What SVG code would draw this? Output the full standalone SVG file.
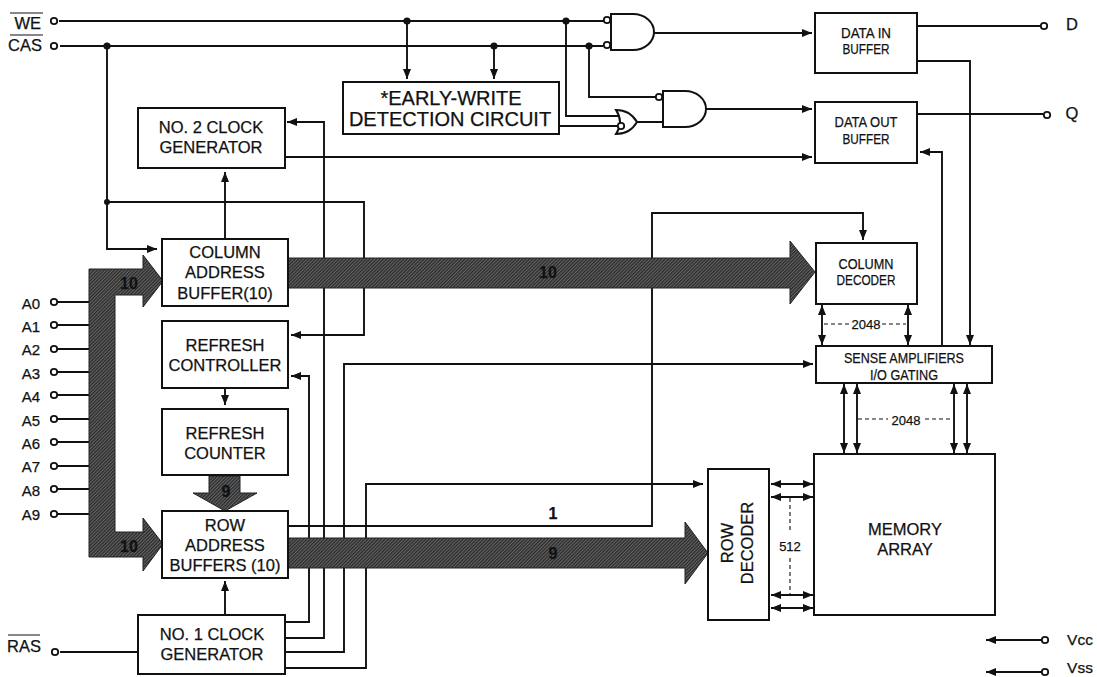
<svg xmlns="http://www.w3.org/2000/svg" width="1097" height="677" viewBox="0 0 1097 677">
<style>
text{font-family:"Liberation Sans",Arial,sans-serif;font-size:16.5px;fill:#111;stroke:#111;stroke-width:.25;text-anchor:middle}
.s{font-size:15px}
.n{font-size:13px}
.b{font-size:16px;font-weight:bold}
.box{fill:#fff;stroke:#111;stroke-width:2}
.w{fill:none;stroke:#111;stroke-width:1.9}
.a{marker-end:url(#ah)}
.d{marker-start:url(#ahs);marker-end:url(#ah)}
.da{fill:none;stroke:#111;stroke-width:1.1;stroke-dasharray:4 3}
.pin{fill:#fff;stroke:#111;stroke-width:1.8}
.j{fill:#111}
.bus{fill:url(#hatch);stroke:#222;stroke-width:1}
.ov{stroke:#111;stroke-width:1}
</style>
<defs>
<marker id="ah" markerUnits="userSpaceOnUse" markerWidth="11" markerHeight="10" refX="10" refY="5" orient="auto"><path d="M0 1L10 5L0 9z" fill="#111"/></marker>
<marker id="ahs" markerUnits="userSpaceOnUse" markerWidth="11" markerHeight="10" refX="0" refY="5" orient="auto"><path d="M10 1L0 5L10 9z" fill="#111"/></marker>
<pattern id="hatch" patternUnits="userSpaceOnUse" width="2.4" height="2.4" patternTransform="rotate(45)"><rect width="2.4" height="2.4" fill="#666"/><rect width="1.3" height="2.4" fill="#2a2a2a"/></pattern>
</defs>
<rect width="1097" height="677" fill="#fff"/>

<g id="connectors">
<path class="w" d="M59 21H605M60 46H603"/>
<path class="w a" d="M107 46V249H157"/>
<path class="w a" d="M107 202H364V335H291"/>
<path class="w a" d="M285 638H324V122H287"/>
<path class="w a" d="M285 622H309V376H291"/>
<path class="w a" d="M285 652H344V364H813"/>
<path class="w a" d="M285 668H366V484H703"/>
<path class="w a" d="M288 526H652V213H863V240"/>
<path class="w a" d="M225 239V172"/>
<path class="w a" d="M225 388V405"/>
<path class="w a" d="M225 615V581"/>
<path class="w a" d="M285 157H812"/>
<path class="w a" d="M407 21V79"/>
<path class="w a" d="M494 46V79"/>
<path class="w" d="M566 21V116H622"/>
<path class="w" d="M589 46V97H655"/>
<path class="w" d="M559 126H617M637 122H663"/>
<path class="w a" d="M653 33H812"/>
<path class="w a" d="M706 109H812"/>
<path class="w" d="M917 26H1040M917 114H1043"/>
<path class="w a" d="M917 61H970V345"/>
<path class="w a" d="M942 346V152H920"/>
<path class="w d" d="M822 305V345"/>
<path class="w d" d="M908 305V345"/>
<path class="w d" d="M844 384V453"/>
<path class="w d" d="M857 384V453"/>
<path class="w d" d="M954 384V453"/>
<path class="w d" d="M967 384V453"/>
<path class="w d" d="M771 484H813"/>
<path class="w d" d="M771 497H813"/>
<path class="w d" d="M771 595H813"/>
<path class="w d" d="M771 608H813"/>
<path class="da" d="M824 324H850M882 324H906M858 419H888M925 419H953M790 498V530M790 558V594"/>
<path class="w a" d="M1041 640H986"/>
<path class="w a" d="M1041 672H986"/>
<path class="w" d="M58 302H89M58 325H89M58 349H89M58 372H89M58 395H89M58 419H89M58 442H89M58 466H89M58 489H89M58 514H89M60 652H138"/>
<path class="bus" d="M89 269H143V255L163 281L143 307V295H115V532H143V518L163 544L143 571V557H89Z"/>
<path class="bus" d="M288 258H790V241L815 272L790 304V288H288Z"/>
<path class="bus" d="M288 538H685V522L708 553L685 584V568H288Z"/>
<path class="bus" d="M209 476H240V493H257L225 511L193 493H209Z"/>
<circle class="j" cx="107" cy="46" r="3.6"/><circle class="j" cx="107" cy="202" r="3"/>
<circle class="j" cx="407" cy="21" r="3.6"/><circle class="j" cx="566" cy="21" r="3.6"/>
<circle class="j" cx="494" cy="46" r="3.6"/><circle class="j" cx="589" cy="46" r="3.6"/>
<text class="b" x="129" y="289">10</text>
<text class="b" x="129" y="552">10</text>
<text class="b" x="548" y="278">10</text>
<text class="b" x="553" y="519">1</text>
<text class="b" x="553" y="559">9</text>
<text class="b" x="226" y="497">9</text>
<text class="n" x="866" y="329">2048</text>
<text class="n" x="906" y="425">2048</text>
<text class="n" x="790" y="551">512</text>
</g>

<g id="gate-and-1"><path class="box" d="M611 14H633A21 18 0 0 1 633 50H611Z"/><circle class="pin" cx="607" cy="20" r="3.2"/><circle class="pin" cx="607" cy="45" r="3.2"/></g>
<g id="gate-and-2"><path class="box" d="M663 91H685A21 18 0 0 1 685 127H663Z"/><circle class="pin" cx="659" cy="97" r="3.2"/></g>
<g id="gate-or"><path class="box" d="M616 110Q630 110 637 122Q630 134 616 134Q624 122 616 110Z"/><circle class="pin" cx="621" cy="126" r="3.2"/></g>

<g id="pin-we"><text x="41" y="29" style="text-anchor:end">WE</text><line class="ov" x1="10" y1="13" x2="43" y2="13"/><circle class="pin" cx="54" cy="21" r="3.2"/></g>
<g id="pin-cas"><text x="42" y="51" style="text-anchor:end">CAS</text><line class="ov" x1="10" y1="35" x2="43" y2="35"/><circle class="pin" cx="54" cy="46" r="3.2"/></g>
<g id="pin-a0"><text class="s" x="31" y="309">A0</text><circle class="pin" cx="54" cy="302" r="3.2"/></g>
<g id="pin-a1"><text class="s" x="31" y="332">A1</text><circle class="pin" cx="54" cy="325" r="3.2"/></g>
<g id="pin-a2"><text class="s" x="31" y="355">A2</text><circle class="pin" cx="54" cy="349" r="3.2"/></g>
<g id="pin-a3"><text class="s" x="31" y="379">A3</text><circle class="pin" cx="54" cy="372" r="3.2"/></g>
<g id="pin-a4"><text class="s" x="31" y="402">A4</text><circle class="pin" cx="54" cy="395" r="3.2"/></g>
<g id="pin-a5"><text class="s" x="31" y="426">A5</text><circle class="pin" cx="54" cy="419" r="3.2"/></g>
<g id="pin-a6"><text class="s" x="31" y="449">A6</text><circle class="pin" cx="54" cy="442" r="3.2"/></g>
<g id="pin-a7"><text class="s" x="31" y="472">A7</text><circle class="pin" cx="54" cy="466" r="3.2"/></g>
<g id="pin-a8"><text class="s" x="31" y="496">A8</text><circle class="pin" cx="54" cy="489" r="3.2"/></g>
<g id="pin-a9"><text class="s" x="31" y="520">A9</text><circle class="pin" cx="54" cy="514" r="3.2"/></g>
<g id="pin-ras"><text x="41" y="652" style="text-anchor:end">RAS</text><line class="ov" x1="8" y1="635" x2="40" y2="635"/><circle class="pin" cx="55" cy="652" r="3.2"/></g>
<g id="pin-d"><text x="1072" y="30">D</text><circle class="pin" cx="1044" cy="26" r="3.2"/></g>
<g id="pin-q"><text x="1072" y="119">Q</text><circle class="pin" cx="1047" cy="115" r="3.2"/></g>
<g id="pin-vcc"><text x="1080" y="645" style="font-size:15.5px">Vcc</text><circle class="pin" cx="1045" cy="640" r="3.2"/></g>
<g id="pin-vss"><text x="1080" y="673" style="font-size:15.5px">Vss</text><circle class="pin" cx="1045" cy="672" r="3.2"/></g>

<g id="no2-clock"><rect class="box" x="138" y="108" width="147" height="60"/><text x="211" y="133">NO. 2 CLOCK</text><text x="211" y="153">GENERATOR</text></g>
<g id="early-write"><rect class="box" x="343" y="82" width="216" height="52"/><text x="451" y="105" style="font-size:20px">*EARLY-WRITE</text><text x="450" y="126" style="font-size:20px">DETECTION CIRCUIT</text></g>
<g id="column-buffer"><rect class="box" x="162" y="239" width="126" height="67"/><text x="225" y="258">COLUMN</text><text x="225" y="278">ADDRESS</text><text x="225" y="299">BUFFER(10)</text></g>
<g id="refresh-controller"><rect class="box" x="162" y="321" width="126" height="67"/><text x="225" y="351">REFRESH</text><text x="225" y="371">CONTROLLER</text></g>
<g id="refresh-counter"><rect class="box" x="162" y="409" width="126" height="66"/><text x="225" y="439">REFRESH</text><text x="225" y="459">COUNTER</text></g>
<g id="row-buffers"><rect class="box" x="162" y="511" width="126" height="67"/><text x="225" y="531">ROW</text><text x="225" y="551">ADDRESS</text><text x="225" y="571">BUFFERS (10)</text></g>
<g id="no1-clock"><rect class="box" x="138" y="615" width="147" height="59"/><text x="212" y="640">NO. 1 CLOCK</text><text x="212" y="660">GENERATOR</text></g>
<g id="data-in"><rect class="box" x="815" y="13" width="102" height="60"/><text class="s" x="866" y="38" textLength="50" lengthAdjust="spacingAndGlyphs">DATA IN</text><text class="s" x="866" y="54" textLength="47" lengthAdjust="spacingAndGlyphs">BUFFER</text></g>
<g id="data-out"><rect class="box" x="815" y="102" width="102" height="61"/><text class="s" x="866" y="127" textLength="63" lengthAdjust="spacingAndGlyphs">DATA OUT</text><text class="s" x="866" y="144" textLength="47" lengthAdjust="spacingAndGlyphs">BUFFER</text></g>
<g id="column-decoder"><rect class="box" x="816" y="243" width="101" height="61"/><text class="s" x="866" y="269" textLength="55" lengthAdjust="spacingAndGlyphs">COLUMN</text><text class="s" x="866" y="285" textLength="59" lengthAdjust="spacingAndGlyphs">DECODER</text></g>
<g id="sense-amps"><rect class="box" x="816" y="346" width="176" height="37"/><text class="s" x="904" y="363" textLength="120" lengthAdjust="spacingAndGlyphs">SENSE AMPLIFIERS</text><text class="s" x="904" y="380" textLength="68" lengthAdjust="spacingAndGlyphs">I/O GATING</text></g>
<g id="memory-array"><rect class="box" x="814" y="454" width="181" height="161"/><text x="905" y="535">MEMORY</text><text x="905" y="555">ARRAY</text></g>
<g id="row-decoder"><rect class="box" x="708" y="469" width="61" height="151"/><text transform="translate(733 543) rotate(-90)">ROW</text><text transform="translate(753 543) rotate(-90)">DECODER</text></g>
</svg>
